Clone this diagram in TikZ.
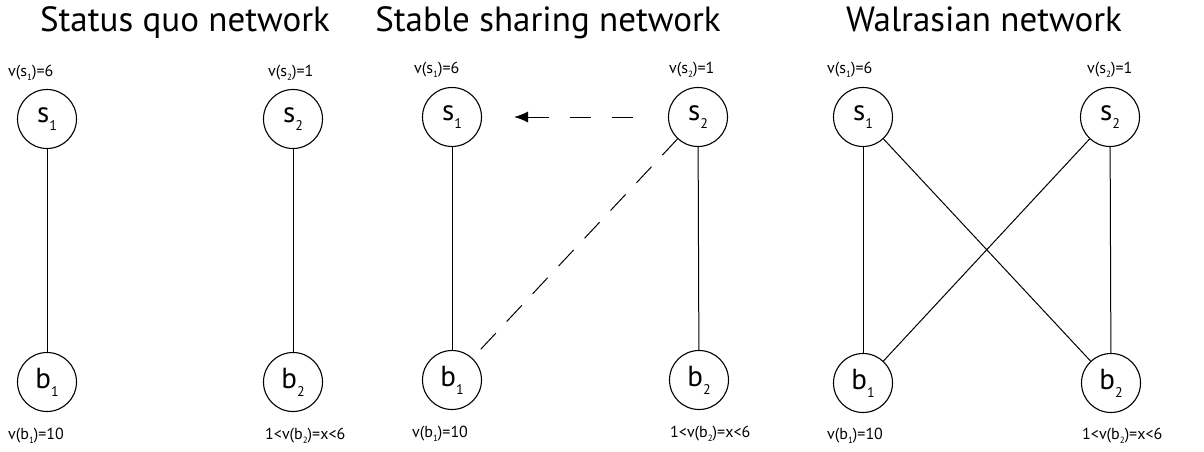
\documentclass[tikz,border=0pt]{standalone}
\usepackage{fontspec}
\setmainfont{PT Sans}
\usetikzlibrary{arrows.meta}
\newcommand\nsub[1]{\raisebox{-0.55ex}{\fontsize{14}{14}\selectfont #1}}
\newcommand\lsub[1]{\raisebox{-0.5ex}{\fontsize{9}{9}\selectfont #1}}
\tikzset{
  vert/.style={circle, draw, line width=1.1pt, minimum size=59pt, inner sep=0pt,
    font=\fontsize{29}{29}\selectfont},
  edge/.style={line width=1pt},
  title/.style={font=\fontsize{35}{35}\selectfont, anchor=base, inner sep=0pt},
  lab/.style={font=\fontsize{16}{16}\selectfont, anchor=base west, inner sep=0pt},
}
\begin{document}
\begin{tikzpicture}[x=1pt,y=-1pt]
\useasboundingbox (0,0) rectangle (1204,452);
% titles
\node[title] (t1) at (185,32) {Status quo network};
\node[title] (t2) at (548,32) {Stable sharing network};
\node[title] (t3) at (984,32) {Walrasian network};
% panel 1
\node[vert] (as1) at (47,119) {s\nsub{1}};
\node[vert] (as2) at (293,119) {s\nsub{2}};
\node[vert] (ab1) at (47,382) {b\nsub{1}};
\node[vert] (ab2) at (293,382) {b\nsub{2}};
\node[lab] (las1) at (8,76) {v(s\lsub{1})=6};
\node[lab] (las2) at (268,76) {v(s\lsub{2})=1};
\node[lab] (lab1) at (8,439) {v(b\lsub{1})=10};
\node[lab] (lab2) at (265,439) {1<v(b\lsub{2})=x<6};
\draw[edge] (as1) -- (ab1);
\draw[edge] (as2) -- (ab2);
% panel 2
\node[vert] (bs1) at (452,117) {s\nsub{1}};
\node[vert] (bs2) at (698,117) {s\nsub{2}};
\node[vert] (bb1) at (452,380) {b\nsub{1}};
\node[vert] (bb2) at (699,380) {b\nsub{2}};
\node[lab] (lbs1) at (414,74) {v(s\lsub{1})=6};
\node[lab] (lbs2) at (669,74) {v(s\lsub{2})=1};
\node[lab] (lbb1) at (412,437) {v(b\lsub{1})=10};
\node[lab] (lbb2) at (670,437) {1<v(b\lsub{2})=x<6};
\draw[edge] (bs1) -- (bb1);
\draw[edge] (bs2) -- (bb2);
\draw[edge, dash pattern=on 22pt off 16pt] (bs2) -- (bb1);
\draw[edge, dash pattern=on 21pt off 21pt, -{Latex[length=14pt,width=11pt]},
  shorten <=35pt, shorten >=32pt] (bs2) -- (bs1);
% panel 3
\node[vert] (cs1) at (863,117) {s\nsub{1}};
\node[vert] (cs2) at (1110,117) {s\nsub{2}};
\node[vert] (cb1) at (863,383) {b\nsub{1}};
\node[vert] (cb2) at (1111,383) {b\nsub{2}};
\node[lab] (lcs1) at (827,74) {v(s\lsub{1})=6};
\node[lab] (lcs2) at (1087,74) {v(s\lsub{2})=1};
\node[lab] (lcb1) at (827,439) {v(b\lsub{1})=10};
\node[lab] (lcb2) at (1082,439) {1<v(b\lsub{2})=x<6};
\draw[edge] (cs1) -- (cb1);
\draw[edge] (cs2) -- (cb2);
\draw[edge] (cs1) -- (cb2);
\draw[edge] (cs2) -- (cb1);
\end{tikzpicture}
\end{document}
